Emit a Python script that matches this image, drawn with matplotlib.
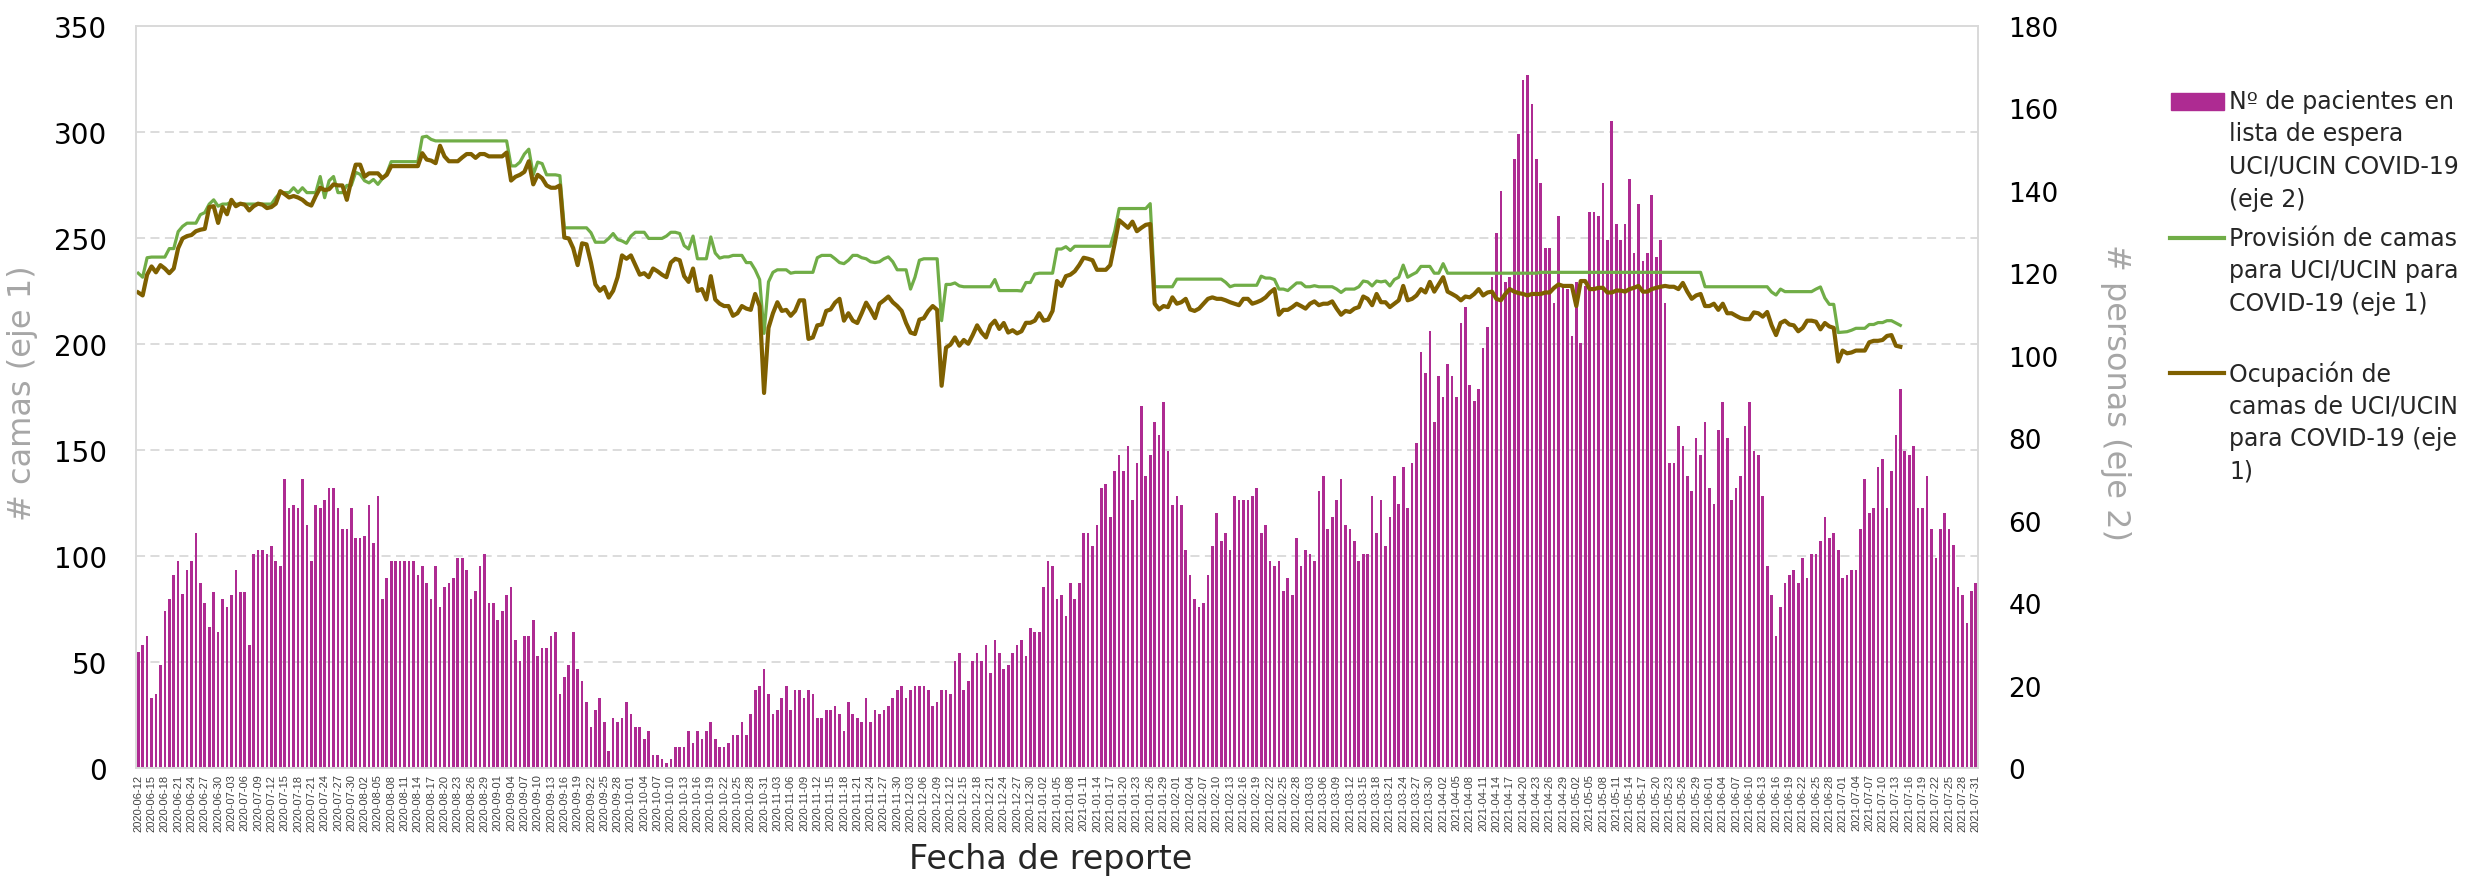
import numpy as np
import pandas as pd
import matplotlib.pyplot as plt
from matplotlib.lines import Line2D
from matplotlib.patches import Rectangle

# categorías: un día por barra
fechas = pd.date_range("2020-06-12", "2021-07-31", freq="D")

# Nº de pacientes en lista de espera UCI/UCIN COVID-19 (eje 2)
lista_espera = [
    28.1, 29.9, 32.0, 17.0, 17.9, 25.0, 38.1, 41.0, 46.9, 50.1,
    42.2, 48.1, 50.1, 57.1, 44.9, 40.0, 34.1, 42.8, 32.9, 41.0,
    39.0, 42.0, 48.0, 42.8, 42.8, 29.9, 51.9, 53.0, 53.0, 51.9,
    53.9, 50.1, 49.0, 70.0, 63.0, 63.9, 63.0, 70.0, 59.0, 50.1,
    63.9, 63.0, 65.1, 67.9, 67.9, 63.0, 58.0, 58.0, 63.0, 55.9,
    55.9, 56.2, 63.9, 54.7, 66.0, 41.0, 46.1, 50.1, 50.1, 50.1,
    50.1, 50.1, 50.1, 46.9, 49.0, 44.9, 41.0, 49.0, 39.0, 44.0,
    44.9, 46.0, 51.0, 51.0, 48.0, 41.0, 42.9, 49.0, 51.9, 40.0,
    40.0, 36.0, 38.1, 42.0, 44.0, 31.1, 26.0, 32.0, 32.0, 36.0,
    27.1, 29.0, 29.0, 32.0, 32.9, 17.9, 22.0, 25.1, 32.9, 24.0,
    21.0, 16.1, 10.0, 14.0, 17.0, 11.1, 4.1, 12.1, 11.1, 12.1,
    16.1, 13.0, 10.0, 10.0, 7.0, 9.0, 3.2, 3.2, 2.1, 1.2,
    2.1, 5.0, 5.0, 5.0, 9.0, 6.0, 9.0, 7.0, 9.0, 11.1,
    7.0, 5.0, 5.0, 6.0, 8.0, 8.0, 11.1, 8.0, 13.0, 19.0,
    20.0, 24.0, 17.9, 13.0, 14.0, 17.0, 20.0, 14.0, 19.0, 19.0,
    17.0, 19.0, 17.9, 12.1, 12.1, 14.0, 14.0, 15.0, 13.0, 9.0,
    16.1, 13.0, 12.1, 11.1, 17.0, 11.1, 14.0, 13.0, 14.0, 15.0,
    17.0, 19.0, 20.0, 17.0, 19.0, 20.0, 20.0, 20.0, 19.0, 15.0,
    16.1, 19.0, 19.0, 17.9, 26.0, 28.0, 19.0, 21.0, 26.0, 28.0,
    26.0, 29.9, 23.0, 31.1, 28.0, 24.0, 25.1, 28.0, 29.9, 31.1,
    27.1, 34.0, 32.9, 32.9, 44.0, 50.1, 49.0, 41.0, 42.0, 36.9,
    44.9, 41.0, 44.9, 57.1, 57.1, 53.9, 59.0, 67.9, 68.9, 61.0,
    72.0, 76.0, 72.0, 78.0, 65.1, 74.0, 87.9, 70.9, 76.0, 83.9,
    80.9, 88.9, 77.0, 63.9, 65.9, 63.9, 53.0, 46.9, 41.0, 39.0,
    40.0, 46.9, 53.9, 61.9, 55.0, 57.0, 53.0, 65.9, 65.1, 65.1,
    65.1, 65.9, 67.9, 57.0, 59.0, 50.1, 49.0, 50.1, 43.0, 46.0,
    42.0, 55.9, 49.0, 53.0, 51.9, 50.1, 67.1, 70.9, 58.0, 61.0,
    65.1, 70.0, 59.0, 58.0, 55.0, 50.1, 51.9, 51.9, 65.9, 57.0,
    65.1, 53.9, 61.0, 70.9, 64.0, 73.0, 63.0, 74.0, 78.9, 100.8,
    95.9, 105.9, 83.9, 95.0, 89.9, 97.9, 95.0, 89.9, 107.9, 111.8,
    93.0, 89.0, 91.9, 101.9, 106.9, 119.0, 129.9, 139.9, 117.8, 119.0,
    147.8, 153.9, 166.8, 168.0, 161.0, 147.8, 141.9, 126.1, 126.1, 112.9,
    133.9, 116.6, 116.1, 104.9, 117.8, 103.2, 116.9, 134.8, 134.8, 133.9,
    141.9, 128.0, 157.0, 131.9, 128.0, 131.9, 142.9, 124.9, 136.8, 123.0,
    124.9, 138.9, 123.9, 128.0, 112.9, 74.0, 74.0, 82.9, 78.0, 70.9,
    67.1, 80.0, 76.0, 83.9, 67.9, 64.0, 81.9, 88.9, 80.0, 65.1,
    67.9, 70.9, 82.9, 88.9, 77.0, 76.0, 66.0, 49.0, 42.0, 32.0,
    39.0, 44.9, 46.9, 48.0, 44.9, 51.0, 46.0, 51.9, 51.9, 55.0,
    61.0, 55.9, 57.0, 53.0, 46.0, 46.9, 48.0, 48.0, 58.0, 70.0,
    61.9, 63.0, 73.0, 75.0, 63.0, 72.0, 80.9, 91.9, 77.0, 76.0,
    78.0, 63.0, 63.0, 70.9, 58.0, 51.0, 58.0, 61.9, 58.0, 54.0,
    44.0, 42.0, 35.1, 43.0, 44.9,
]

# Provisión de camas para UCI/UCIN para COVID-19 (eje 1)
provision = [
    233.4, 231.5, 240.7, 241.0, 241.0, 241.0, 241.0, 245.0, 245.0, 253.0,
    255.5, 257.0, 257.0, 257.0, 261.0, 262.0, 266.0, 268.0, 265.0, 266.0,
    266.0, 267.0, 266.0, 266.0, 266.0, 266.0, 266.0, 266.0, 266.0, 266.0,
    266.0, 269.0, 271.4, 271.4, 271.4, 273.7, 271.4, 273.7, 271.4, 271.4,
    271.4, 279.0, 269.0, 277.0, 279.0, 271.4, 271.4, 274.8, 274.8, 281.0,
    280.0, 277.0, 276.0, 277.6, 275.3, 278.0, 280.5, 286.0, 286.0, 286.0,
    286.0, 286.0, 286.0, 286.0, 297.6, 298.0, 296.5, 295.8, 295.8, 295.8,
    295.8, 295.8, 295.8, 295.8, 295.8, 295.8, 295.8, 295.8, 295.8, 295.8,
    295.8, 295.8, 295.8, 295.8, 284.0, 284.0, 285.8, 289.6, 291.9, 279.8,
    285.8, 285.1, 279.8, 279.8, 279.8, 279.4, 254.8, 254.8, 254.8, 254.8,
    254.8, 254.8, 252.5, 248.0, 248.0, 248.0, 249.8, 252.1, 249.3, 248.6,
    247.5, 250.9, 252.7, 252.7, 252.7, 249.8, 249.8, 249.8, 249.8, 250.9,
    252.7, 252.7, 252.1, 246.4, 244.8, 250.9, 240.2, 240.2, 240.2, 250.5,
    242.9, 240.5, 241.1, 241.1, 241.8, 241.8, 241.8, 238.4, 238.4, 235.0,
    230.4, 205.0, 229.3, 233.8, 235.0, 235.0, 235.0, 233.4, 233.8, 233.8,
    233.8, 233.8, 233.8, 240.7, 241.8, 241.8, 241.8, 240.2, 238.4, 237.9,
    239.5, 241.8, 241.8, 240.7, 240.2, 238.8, 238.4, 238.8, 240.2, 241.1,
    238.8, 235.0, 235.0, 235.0, 225.9, 231.5, 239.5, 240.2, 240.2, 240.2,
    240.2, 211.0, 228.1, 228.1, 228.8, 227.4, 227.0, 227.0, 227.0, 227.0,
    227.0, 227.0, 227.0, 230.4, 225.2, 225.2, 225.2, 225.2, 225.2, 225.0,
    229.0, 229.0, 233.0, 233.4, 233.4, 233.4, 233.4, 244.8, 244.8, 245.9,
    244.1, 246.1, 246.1, 246.1, 246.1, 246.1, 246.1, 246.1, 246.1, 246.1,
    253.2, 263.9, 263.9, 263.9, 263.9, 263.9, 263.9, 263.9, 266.2, 227.0,
    227.0, 227.0, 227.0, 227.0, 230.6, 230.6, 230.6, 230.6, 230.6, 230.6,
    230.6, 230.6, 230.6, 230.6, 230.6, 229.1, 227.0, 227.7, 227.7, 227.7,
    227.7, 227.7, 227.7, 232.0, 231.1, 231.1, 230.4, 225.9, 225.9, 225.2,
    227.0, 228.8, 228.8, 227.0, 227.0, 227.5, 227.0, 227.0, 227.0, 227.0,
    225.9, 224.3, 225.9, 225.9, 225.9, 227.0, 229.7, 229.3, 227.4, 229.7,
    229.3, 229.7, 227.4, 230.4, 231.5, 237.2, 231.5, 232.7, 233.8, 236.6,
    236.6, 236.6, 233.4, 233.4, 237.9, 233.4, 233.4, 233.4, 233.4, 233.4,
    233.4, 233.4, 233.4, 233.4, 233.4, 233.4, 233.4, 233.4, 233.4, 233.4,
    233.4, 233.4, 233.4, 233.4, 233.4, 233.4, 233.8, 233.8, 233.8, 233.8,
    233.8, 233.8, 233.8, 233.8, 233.8, 233.8, 233.8, 233.8, 233.8, 233.8,
    233.8, 233.8, 233.8, 233.8, 233.8, 233.8, 233.8, 233.8, 233.8, 233.8,
    233.8, 233.8, 233.8, 233.8, 233.8, 233.8, 233.8, 233.8, 233.8, 233.8,
    233.8, 233.8, 233.8, 227.0, 227.0, 227.0, 227.0, 227.0, 227.0, 227.0,
    227.0, 227.0, 227.0, 227.0, 227.0, 227.0, 227.0, 227.0, 224.5, 223.1,
    225.9, 224.7, 224.7, 224.7, 224.7, 224.7, 224.7, 224.7, 225.9, 226.9,
    221.7, 218.7, 218.7, 205.4, 205.6, 205.8, 206.5, 207.4, 207.4, 207.4,
    209.2, 209.2, 210.1, 210.1, 211.0, 211.0, 209.9, 208.8,
]

# Ocupación de camas de UCI/UCIN para COVID-19 (eje 1)
ocupacion = [
    224.3, 222.9, 232.7, 236.6, 233.8, 237.2, 235.6, 233.4, 235.6, 245.2,
    249.8, 250.9, 251.4, 253.2, 253.9, 254.3, 264.6, 265.0, 257.1, 264.6,
    261.2, 268.0, 265.0, 266.2, 265.7, 263.0, 265.0, 266.2, 265.7, 264.1,
    264.6, 266.2, 272.1, 270.7, 269.1, 269.8, 269.1, 268.0, 266.2, 265.3,
    269.8, 273.7, 272.6, 273.0, 275.3, 274.8, 274.8, 268.0, 277.1, 284.6,
    284.6, 278.9, 280.5, 280.5, 280.5, 278.2, 279.8, 283.9, 283.9, 283.9,
    283.9, 283.9, 283.9, 283.9, 290.0, 287.0, 286.5, 285.3, 293.5, 288.5,
    286.2, 286.2, 286.2, 288.0, 289.6, 289.6, 287.8, 289.6, 289.6, 288.5,
    288.5, 288.5, 288.5, 290.3, 277.1, 278.9, 279.8, 281.2, 286.2, 275.3,
    279.8, 278.2, 274.8, 273.7, 273.7, 274.8, 250.2, 249.8, 245.2, 237.2,
    247.5, 247.0, 238.4, 228.1, 225.1, 226.9, 221.9, 225.1, 231.5, 241.8,
    240.2, 241.8, 237.2, 232.7, 233.4, 231.5, 235.6, 234.3, 232.7, 231.5,
    238.4, 240.2, 239.5, 232.0, 229.3, 235.6, 225.1, 225.9, 221.0, 232.0,
    221.0, 219.0, 217.9, 217.9, 213.3, 214.5, 217.9, 216.7, 216.1, 223.6,
    217.9, 176.9, 207.6, 214.5, 219.7, 215.6, 216.1, 213.3, 215.6, 220.6,
    220.6, 202.4, 203.1, 208.8, 209.2, 215.6, 216.3, 219.5, 221.3, 211.0,
    214.5, 211.0, 209.9, 214.5, 219.5, 216.1, 212.2, 219.0, 220.6, 222.4,
    219.7, 217.9, 215.6, 209.9, 205.4, 204.7, 211.5, 212.2, 215.6, 217.9,
    216.1, 180.3, 198.3, 199.7, 203.1, 199.2, 201.9, 200.1, 204.2, 208.8,
    205.4, 203.1, 208.8, 211.0, 207.1, 209.9, 205.4, 206.5, 205.0, 206.0,
    210.0, 210.0, 211.0, 214.5, 211.0, 211.5, 215.6, 229.7, 227.4, 232.0,
    232.7, 234.3, 237.2, 240.7, 240.2, 239.5, 235.0, 235.0, 235.0, 237.2,
    247.5, 258.4, 256.6, 254.8, 257.7, 253.2, 254.8, 256.2, 256.6, 219.0,
    216.3, 217.9, 217.4, 222.0, 219.0, 219.7, 221.3, 216.3, 215.6, 216.7,
    219.0, 221.3, 222.0, 221.3, 221.3, 220.6, 219.7, 219.0, 218.3, 221.3,
    221.3, 219.0, 219.7, 220.6, 222.0, 224.3, 225.9, 213.8, 216.1, 216.1,
    217.4, 219.0, 217.9, 216.7, 219.0, 220.1, 218.3, 219.0, 219.0, 220.1,
    216.7, 213.8, 215.6, 215.1, 216.7, 217.4, 222.4, 221.3, 218.3, 223.6,
    219.7, 219.7, 217.4, 219.0, 220.6, 227.4, 220.6, 221.3, 222.9, 225.9,
    224.3, 229.3, 224.7, 228.1, 231.5, 224.7, 223.6, 222.4, 220.6, 222.4,
    222.0, 223.6, 225.9, 222.9, 224.3, 224.7, 221.3, 220.6, 223.6, 225.9,
    224.7, 224.0, 223.6, 222.9, 223.6, 223.6, 223.6, 224.3, 224.3, 226.5,
    228.1, 227.4, 227.4, 227.4, 217.9, 229.7, 229.7, 225.9, 225.9, 226.5,
    226.5, 224.3, 224.3, 225.2, 225.2, 224.7, 225.9, 226.5, 227.4, 224.7,
    224.7, 225.9, 226.5, 227.0, 227.4, 227.0, 227.0, 225.9, 228.8, 224.7,
    221.3, 222.9, 223.6, 217.9, 217.9, 219.0, 216.1, 219.0, 214.5, 214.5,
    213.3, 212.2, 211.7, 211.7, 214.9, 214.5, 212.9, 215.1, 208.8, 204.2,
    209.9, 211.0, 209.2, 208.8, 206.0, 207.6, 211.0, 211.0, 210.5, 206.9,
    209.9, 208.3, 207.6, 191.7, 196.9, 195.6, 196.0, 196.9, 196.9, 196.9,
    200.8, 201.5, 201.5, 201.9, 203.8, 204.2, 199.2, 198.7,
]

color_barra = "#AE2B92"
color_prov = "#70AD47"
color_ocup = "#7F6000"
gris = "#d9d9d9"

x = np.arange(len(fechas))
etiquetas = [d.strftime("%Y-%m-%d") for d in fechas]

fig = plt.figure(figsize=(24.66, 8.78), dpi=100)
ax = fig.add_axes([0.05515, 0.12415, 0.74696, 0.8451])
ax2 = ax.twinx()
# lineas encima de las barras
ax2.set_zorder(1)
ax.set_zorder(2)
ax.patch.set_visible(False)

ax2.bar(x, lista_espera[:len(x)], width=0.6, color=color_barra)
ax.plot(x[:len(provision)], provision, color=color_prov, lw=2.3, solid_joinstyle="round")
ax.plot(x[:len(ocupacion)], ocupacion, color=color_ocup, lw=3.0, solid_joinstyle="round")

ax.set_xlim(-0.5, len(x) - 0.5)
ax.set_ylim(0, 350)
ax2.set_ylim(0, 180)

ax.set_yticks(range(0, 351, 50))
ax2.set_yticks(range(0, 181, 20))
# rejilla a la altura de las marcas del eje 1, detrás de las barras
ax2.set_yticks([180 / 7 * k for k in range(1, 7)], minor=True)
ax2.set_axisbelow(True)
ax2.yaxis.grid(True, which="minor", color=gris, lw=1.3, ls=(0, (5, 3)))

ax.set_xticks(x[::3])
ax.set_xticklabels(etiquetas[::3], rotation=90, fontsize=8, color="#404040",
                   family="Liberation Sans")
ax.tick_params(axis="x", length=0, pad=4)
ax.tick_params(axis="y", length=0, pad=21, labelsize=20)
ax2.tick_params(axis="y", which="both", length=0, pad=22, labelsize=19)

for a in (ax, ax2):
    for s in a.spines.values():
        s.set_color(gris)
        s.set_linewidth(1.2)

fig.text(23 / 2466, 1 - 393 / 878, "# camas (eje 1)", rotation=90, ha="center",
         va="center", fontsize=23, color="#a6a6a6")
fig.text(2115 / 2466, 1 - 393 / 878, "# personas (eje 2)", rotation=270, ha="center",
         va="center", fontsize=23, color="#a6a6a6")
fig.text(1051 / 2466, 1 - 860 / 878, "Fecha de reporte", ha="center", va="center",
         fontsize=24, color="#262626")

# leyenda a la derecha
fig.add_artist(Rectangle((2171 / 2466, 1 - 111 / 878), 53 / 2466, 17 / 878,
                         transform=fig.transFigure, color=color_barra))
fig.add_artist(Line2D([2170 / 2466, 2224 / 2466], [1 - 239 / 878] * 2,
                      transform=fig.transFigure, color=color_prov, lw=3))
fig.add_artist(Line2D([2170 / 2466, 2224 / 2466], [1 - 374 / 878] * 2,
                      transform=fig.transFigure, color=color_ocup, lw=3))

leyenda = [
    (["Nº de pacientes en", "lista de espera", "UCI/UCIN COVID-19", "(eje 2)"], 102),
    (["Provisión de camas", "para UCI/UCIN para", "COVID-19 (eje 1)"], 239),
    (["Ocupación de", "camas de UCI/UCIN", "para COVID-19 (eje", "1)"], 374),
]
for lineas, y0 in leyenda:
    for k, txt in enumerate(lineas):
        fig.text(2229 / 2466, 1 - (y0 + 32.5 * k) / 878, txt, ha="left", va="center",
                 fontsize=17, color="#262626")

fig.savefig("out.png", dpi=100)
